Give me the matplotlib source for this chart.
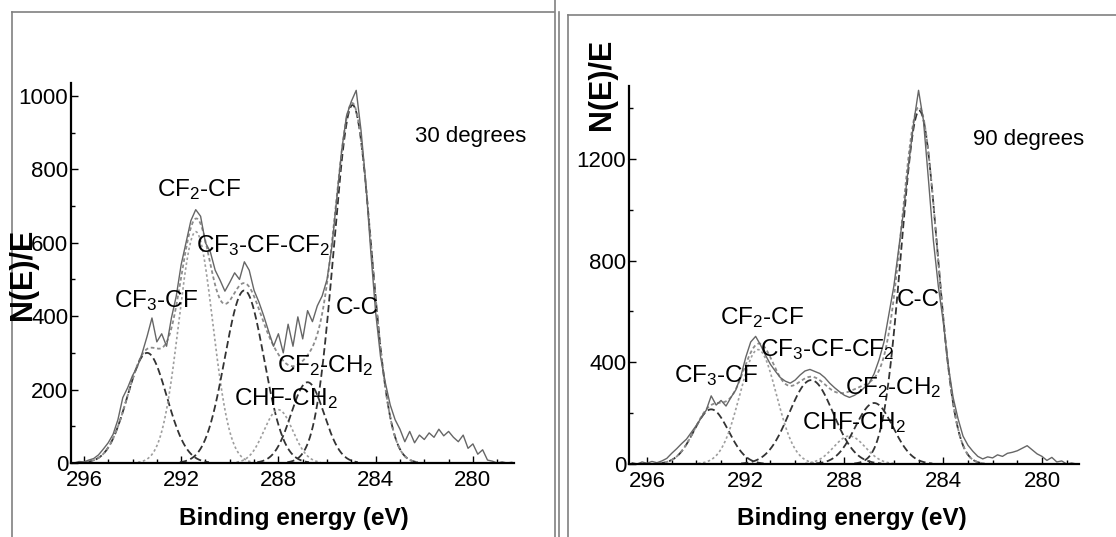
import numpy as np
import matplotlib
matplotlib.use('Agg')
import matplotlib.pyplot as plt
from matplotlib.lines import Line2D
from matplotlib.ticker import MultipleLocator

plt.rcParams['font.family'] = ['Liberation Sans', 'DejaVu Sans']
plt.rcParams['mathtext.fontset'] = 'custom'
plt.rcParams['mathtext.rm'] = 'Liberation Sans'
plt.rcParams['mathtext.it'] = 'Liberation Sans'

# binding energy grid of the measured spectra (eV), 0.2 eV steps
energy = np.round(np.arange(296.6, 278.3, -0.2), 1)

# measured C1s spectrum, 30 degrees take-off
counts_30 = [2, 0, 4, 3, 8, 12, 22, 38, 55, 78,
             118, 178, 205, 238, 262, 300, 345, 395, 330, 352,
             318, 395, 455, 540, 600, 660, 690, 672, 600, 575,
             525, 498, 468, 492, 518, 500, 548, 525, 470, 438,
             400, 358, 318, 352, 300, 378, 318, 398, 338, 415,
             385, 428, 455, 500, 590, 720, 850, 945, 985, 1015,
             905, 760, 575, 410, 290, 218, 158, 118, 92, 58,
             86, 55, 76, 64, 82, 70, 92, 74, 86, 70,
             58, 76, 40, 52, 24, 36, 8, 5, 0, 3,
             0, 2]

# measured C1s spectrum, 90 degrees take-off
counts_90 = [5, 0, 8, 3, 10, 5, 12, 22, 42, 60,
             80, 98, 125, 152, 182, 212, 268, 232, 250, 228,
             262, 292, 345, 420, 480, 502, 468, 428, 392, 365,
             340, 326, 318, 330, 350, 366, 372, 364, 356, 340,
             318, 300, 284, 270, 262, 270, 282, 300, 318, 355,
             410, 480, 590, 700, 850, 1000, 1180, 1340, 1470, 1350,
             1120, 880, 700, 560, 390, 262, 178, 110, 74, 50,
             30, 20, 28, 24, 36, 30, 42, 46, 52, 62,
             72, 56, 40, 30, 14, 26, 8, 12, 0, 4,
             0, 2]

# fitted components: CF3-CF, CF2-CF, CF3-CF-CF2, CHF-CH2, CF2-CH2, C-C
centre_30 = [293.4, 291.4, 289.4, 288.0, 286.8, 284.95]
height_30 = [300, 630, 470, 145, 220, 975]
fwhm_30 = [1.9, 1.65, 1.9, 1.4, 1.6, 1.8]

centre_90 = [293.4, 291.5, 289.35, 287.8, 286.8, 284.97]
height_90 = [215, 450, 330, 110, 240, 1390]
fwhm_90 = [1.65, 1.75, 2.1, 1.5, 1.8, 1.72]

comp_dark = [True, False, True, False, True, True]

labels = [r'CF$_{\mathregular{3}}$-CF', r'CF$_{\mathregular{2}}$-CF',
          r'CF$_{\mathregular{3}}$-CF-CF$_{\mathregular{2}}$',
          r'CHF-CH$_{\mathregular{2}}$', r'CF$_{\mathregular{2}}$-CH$_{\mathregular{2}}$', 'C-C']
label_pos_30 = [(294.77, 425), (293.0, 728), (291.39, 575), (289.83, 158), (288.06, 248), (285.63, 406)]
label_pos_90 = [(294.91, 323), (293.04, 551), (291.43, 425), (289.72, 138), (287.98, 276), (285.88, 622)]

W, H = 1116, 537
fig = plt.figure(figsize=(W / 100, H / 100), dpi=100)


def panel(rect, xlim, ylim, counts, centre, height, fwhm, lab_pos, ymajor, yminor, title, title_pos):
    ax = fig.add_axes(rect)
    e = np.linspace(xlim[0], xlim[1], 900)
    total = np.zeros_like(e)
    for c, h, w, dark in zip(centre, height, fwhm, comp_dark):
        s = w / 2.3548
        g = h * np.exp(-(e - c) ** 2 / (2 * s * s))
        total += g
        g = np.where(g < 2, np.nan, g)
        if dark:
            ax.plot(e, g, color='0.2', lw=1.3, ls=(0, (4, 2)))
        else:
            ax.plot(e, g, color='0.62', lw=1.2, ls=(0, (1.5, 1.5)))
    ax.plot(e, np.where(total < 2, np.nan, total), color='0.55', lw=1.3, ls=(0, (2, 1.5)))
    ax.plot(energy, counts, color='0.4', lw=1.0)

    for lab, (x, y) in zip(labels, lab_pos):
        ax.text(x, y, lab, fontsize=17.5, ha='left', va='baseline')
    ax.text(title_pos[0], title_pos[1], title, fontsize=16, ha='left', va='baseline')

    ax.set_xlim(*xlim)
    ax.set_ylim(*ylim)
    ax.set_xticks([296, 292, 288, 284, 280])
    ax.xaxis.set_minor_locator(MultipleLocator(1))
    ax.yaxis.set_major_locator(MultipleLocator(ymajor))
    ax.yaxis.set_minor_locator(MultipleLocator(yminor))
    ax.tick_params(which='both', direction='in', labelsize=16, width=1.0)
    ax.tick_params(which='major', length=5)
    ax.tick_params(which='minor', length=3)
    ax.tick_params(axis='y', pad=2)
    ax.tick_params(axis='x', pad=5)
    for side in ['top', 'right']:
        ax.spines[side].set_visible(False)
    for side in ['left', 'bottom']:
        ax.spines[side].set_linewidth(1.6)
    ax.patch.set_alpha(0)
    return ax


panel([71 / W, (H - 463) / H, 443 / W, 380 / H], (296.53, 278.31), (0, 1035),
      counts_30, centre_30, height_30, fwhm_30, label_pos_30, 200, 100,
      '30 degrees', (282.4, 875))
panel([629 / W, (H - 464) / H, 450 / W, 378 / H], (296.73, 278.5), (0, 1487),
      counts_90, centre_90, height_90, fwhm_90, label_pos_90, 400, 200,
      '90 degrees', (282.8, 1256))

# axis titles
for xc, yc in [(23, 274), (602, 84)]:
    fig.text(xc / W, 1 - yc / H, 'N(E)/E', rotation=90, fontsize=22, fontweight='bold',
             ha='center', va='center')
for xc in [294, 852]:
    fig.text(xc / W, 1 - 518 / H, 'Binding energy (eV)', fontsize=17.5, fontweight='bold',
             ha='center', va='center')

# scanned page frames
def fline(x0, y0, x1, y1, c='0.5', lw=1.2):
    fig.add_artist(Line2D([x0 / W, x1 / W], [1 - y0 / H, 1 - y1 / H], color=c, lw=lw))

fline(12, 12, 12, H)
fline(12, 12, 554, 12)
fline(555, 0, 555, H)
fline(559, 12, 559, H)
fline(568, 15, 568, H)
fline(568, 15, W, 15)

fig.savefig('out.png', dpi=100)
